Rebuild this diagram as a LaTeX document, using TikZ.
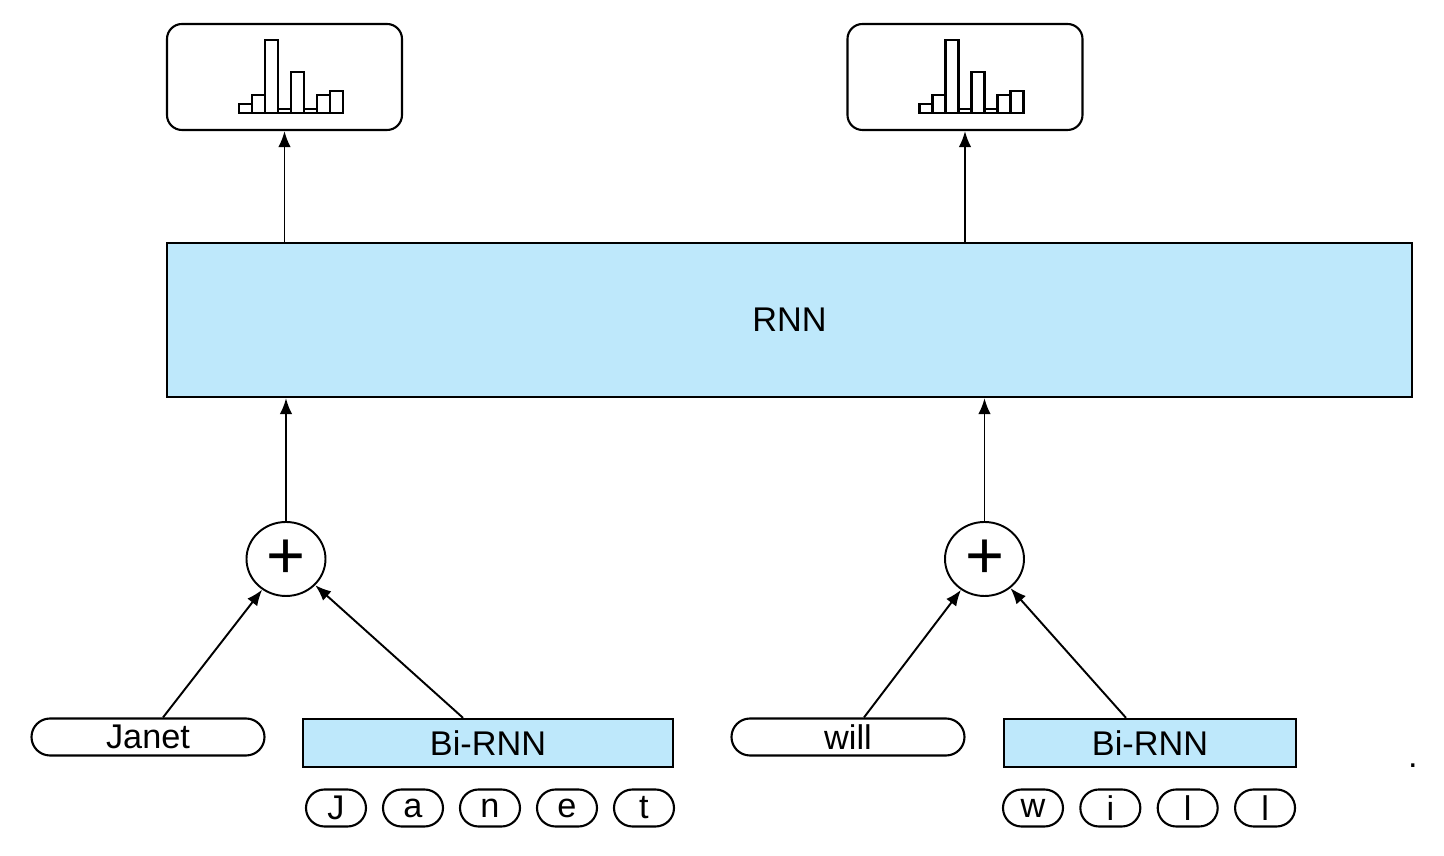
\documentclass[tikz,border=0pt]{standalone}
\usepackage{fontspec}
\setmainfont{Liberation Sans}
\usepackage{tikz}
\usetikzlibrary{calc}
\usetikzlibrary{arrows,arrows.meta,shapes}
\usetikzlibrary{positioning}
\usepackage{xcolor}
\definecolor{rnnblue}{RGB}{190,232,251}
\newcommand{\distbars}[1]{\foreach \h [count=\k from 0] in {0.18,0.36,1.46,0.08,0.82,0.08,0.36,0.44}
          \draw[bar] ($(#1)+(-0.91+0.26*\k,-0.72)$) rectangle ++(0.26,\h);}

\begin{document}
\begin{tikzpicture}[font=\fontsize{19.5}{23}\selectfont,
          layer/.style={draw,line width=1.3pt,fill=rnnblue,inner sep=0pt},
          distbox/.style={draw,line width=1.2pt,rounded corners=0.3cm,minimum width=4.7cm,minimum height=2.12cm},
          word/.style={draw,line width=1.2pt,rounded corners=0.37cm,minimum width=4.66cm,minimum height=0.74cm,inner sep=0pt},
          letter/.style={draw,line width=1.2pt,rounded corners=0.37cm,minimum width=1.2cm,minimum height=0.74cm,inner sep=0pt},
          plus/.style={draw,ellipse,line width=1.1pt,minimum width=1.58cm,minimum height=1.48cm,inner sep=0pt,
            font=\fontsize{38}{38}\selectfont},
          link/.style={-{Latex[length=0.32cm,width=0.25cm]},line width=1.1pt},
          bar/.style={line width=1.4pt}]
        \useasboundingbox (0,0) rectangle (28.88,17.12);
        % output distributions
        \node[distbox] (distL) at (5.69,15.58) {};
        \node[distbox] (distR) at (19.30,15.58) {};
        \distbars{distL}
        \distbars{distR}
        % word level rnn
        \node[layer,minimum width=24.9cm,minimum height=3.08cm] (rnn) at (15.79,10.72) {RNN};
        % combine
        \node[plus] (plusL) at (5.72,5.94) {+};
        \node[plus] (plusR) at (19.69,5.94) {+};
        % inputs
        \node[word] (janet) at (2.96,2.38) {Janet};
        \node[layer,minimum width=7.4cm,minimum height=0.96cm] (birnnL) at (9.76,2.26) {Bi-RNN};
        \node[word] (will) at (16.96,2.38) {will};
        \node[layer,minimum width=5.84cm,minimum height=0.96cm] (birnnR) at (23.0,2.26) {Bi-RNN};
        \foreach \c [count=\k from 0] in {J,a,n,e,t}
          \node[letter] (cL\k) at (6.72+1.54*\k,0.96) {\c};
        \foreach \c [count=\k from 0] in {w,i,l,l}
          \node[letter] (cR\k) at (20.66+1.547*\k,0.96) {\c};
        \node[anchor=base,inner sep=0pt] (dot) at (28.26,1.76) {.};
        % arrows
        \draw[link] (rnn.north -| distL.south) -- (distL.south);
        \draw[link] (rnn.north -| distR.south) -- (distR.south);
        \draw[link] (plusL.north) -- (rnn.south -| plusL.north);
        \draw[link] (plusR.north) -- (rnn.south -| plusR.north);
        \draw[link] ([xshift=0.3cm]janet.north) -- (plusL);
        \draw[link] ([xshift=-0.5cm]birnnL.north) -- (plusL);
        \draw[link] ([xshift=0.32cm]will.north) -- (plusR);
        \draw[link] ([xshift=-0.48cm]birnnR.north) -- (plusR);
\end{tikzpicture}
\end{document}
